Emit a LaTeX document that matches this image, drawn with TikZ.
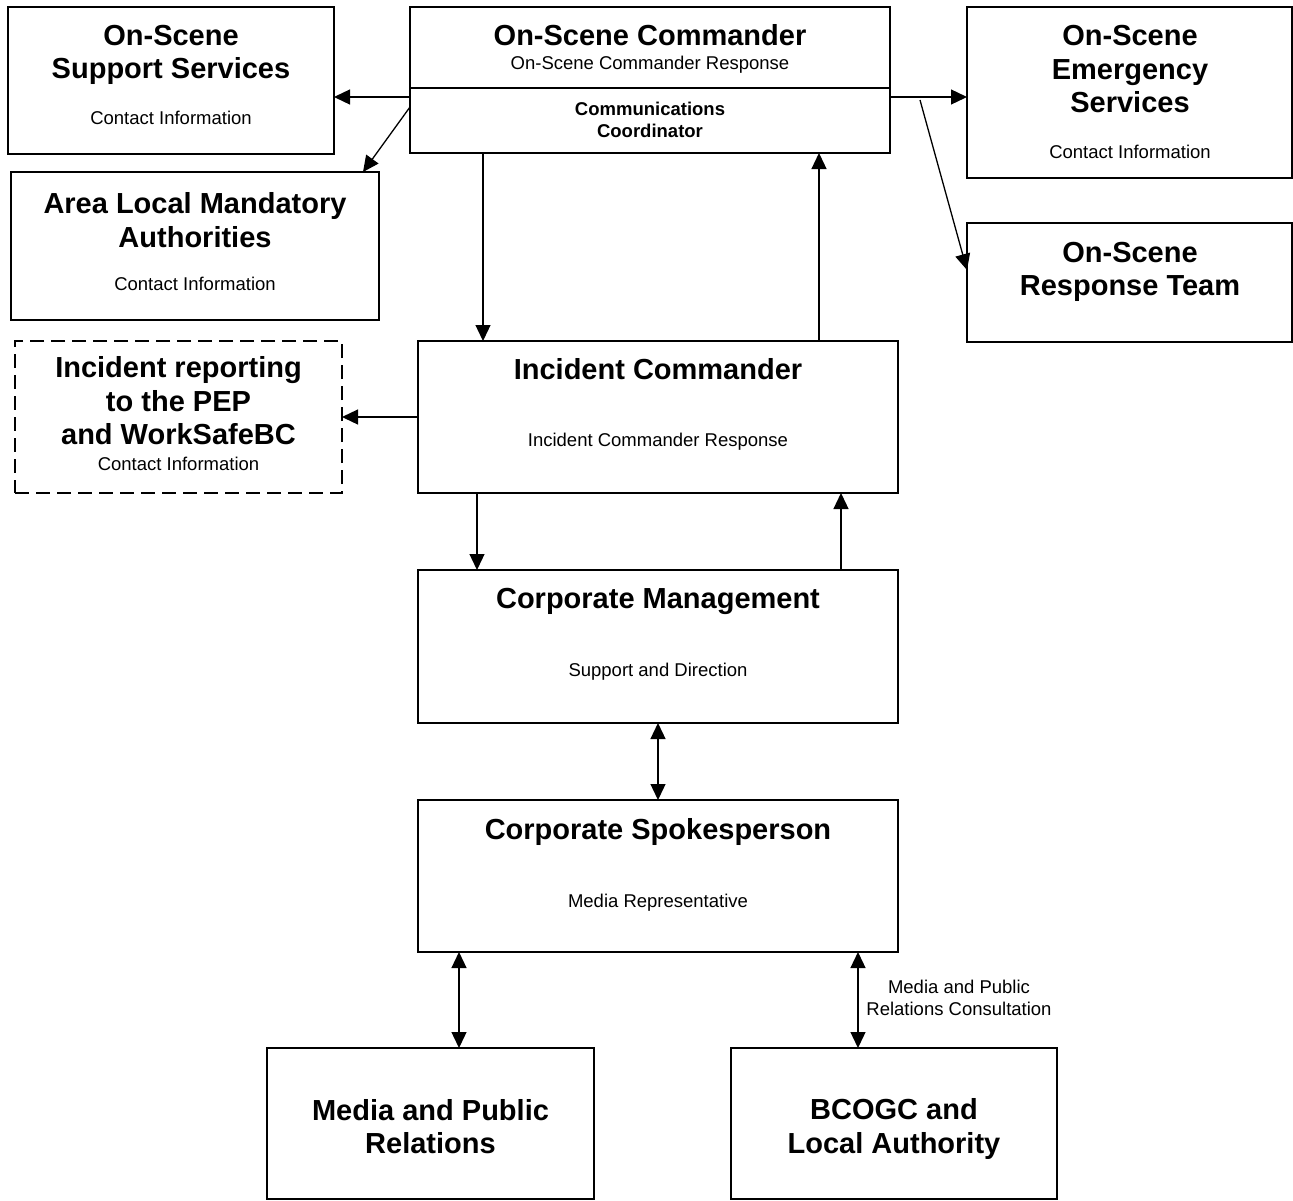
\documentclass[tikz,border=0pt]{standalone}
\usepackage{fontspec}
\setmainfont{Liberation Sans}
\usetikzlibrary{arrows.meta}
\begin{document}
\begin{tikzpicture}[x=1pt,y=-1pt,
 box/.style={draw, line width=1.8pt, inner sep=0pt, outer sep=0pt},
 dbox/.style={box, dash pattern=on 14pt off 7pt},
 ttl/.style={font=\fontsize{29}{33.5}\selectfont\bfseries, align=center, inner sep=0pt},
 subt/.style={font=\fontsize{18.5}{22}\selectfont, align=center, inner sep=0pt},
 subb/.style={font=\fontsize{18.5}{22}\selectfont\bfseries, align=center, inner sep=0pt},
 arr/.style={line width=1.3pt, -{Triangle[length=16pt,width=15pt]}},
 darr/.style={line width=1.3pt, {Triangle[length=16pt,width=15pt]}-{Triangle[length=16pt,width=15pt]}},
]
\useasboundingbox (0,0) rectangle (1293,1200);

% boxes
\node[box, minimum width=326pt, minimum height=147pt] (ss) at (171,80.5) {};
\node[box, minimum width=368pt, minimum height=148pt] (al) at (195,246) {};
\node[box, minimum width=480pt, minimum height=81pt] (osc) at (650,47.5) {};
\node[box, minimum width=480pt, minimum height=65pt] (cc) at (650,120.5) {};
\node[box, minimum width=325pt, minimum height=171pt] (es) at (1129.5,92.5) {};
\node[box, minimum width=325pt, minimum height=119pt] (rt) at (1129.5,282.5) {};
\node[dbox, minimum width=327pt, minimum height=152pt] (ir) at (178.5,417) {};
\node[box, minimum width=480pt, minimum height=152pt] (ic) at (658,417) {};
\node[box, minimum width=480pt, minimum height=153pt] (cm) at (658,646.5) {};
\node[box, minimum width=480pt, minimum height=152pt] (sp) at (658,876) {};
\node[box, minimum width=327pt, minimum height=151pt] (mp) at (430.5,1123.5) {};
\node[box, minimum width=326pt, minimum height=151pt] (bc) at (894,1123.5) {};

% texts
\node[ttl] (ss-t) at (171,55) {On-Scene\\Support Services};
\node[subt] (ss-s) at (171,118) {Contact Information};
\node[ttl] (al-t) at (195,220) {Area Local Mandatory\\Authorities};
\node[subt] (al-s) at (195,284) {Contact Information};
\node[ttl] (osc-t) at (650,35) {On-Scene Commander};
\node[subt] (osc-s) at (650,65) {On-Scene Commander Response};
\node[subb] (cc-t) at (650,120) {Communications\\Coordinator};
\node[ttl] (es-t) at (1130,69.5) {On-Scene\\Emergency\\Services};
\node[subt] (es-s) at (1130,152) {Contact Information};
\node[ttl] (rt-t) at (1130,272) {On-Scene\\Response Team};
\node[ttl] (ir-t) at (178.5,401) {Incident reporting\\to the PEP\\and WorkSafeBC};
\node[subt] (ir-s) at (178.5,464) {Contact Information};
\node[ttl] (ic-t) at (658,369) {Incident Commander};
\node[subt] (ic-s) at (658,442) {Incident Commander Response};
\node[ttl] (cm-t) at (658,601) {Corporate Management};
\node[subt] (cm-s) at (658,672) {Support and Direction};
\node[ttl] (sp-t) at (658,832) {Corporate Spokesperson};
\node[subt] (sp-s) at (658,903) {Media Representative};
\node[ttl] (mp-t) at (430.5,1126.5) {Media and Public\\Relations};
\node[ttl] (bc-t) at (894,1129) {BCOGC and\\Local Authority};
\node[subt] (lbl) at (959,998) {Media and Public\\Relations Consultation};

% helper coordinates
\coordinate (y97) at (0,97);
\coordinate (y107) at (0,107);
\coordinate (y270) at (0,270);
\coordinate (x363) at (363,0);
\coordinate (x483) at (483,0);
\coordinate (x819) at (819,0);
\coordinate (x477) at (477,0);
\coordinate (x841) at (841,0);
\coordinate (x459) at (459,0);
\coordinate (x858) at (858,0);
\coordinate (rtstart) at (920,100);

% connectors
\draw[arr] (cc.west |- y97) -- (ss.east |- y97);
\draw[arr] (cc.west |- y107) -- (al.north -| x363);
\draw[arr] (cc.east |- y97) -- (es.west |- y97);
\draw[arr] (rtstart) -- (rt.west |- y270);
\draw[arr] (cc.south -| x483) -- (ic.north -| x483);
\draw[arr] (ic.north -| x819) -- (cc.south -| x819);
\draw[arr] (ic.west) -- (ir.east);
\draw[arr] (ic.south -| x477) -- (cm.north -| x477);
\draw[arr] (cm.north -| x841) -- (ic.south -| x841);
\draw[darr] (cm.south) -- (sp.north);
\draw[darr] (sp.south -| x459) -- (mp.north -| x459);
\draw[darr] (sp.south -| x858) -- (bc.north -| x858);
\end{tikzpicture}
\end{document}
